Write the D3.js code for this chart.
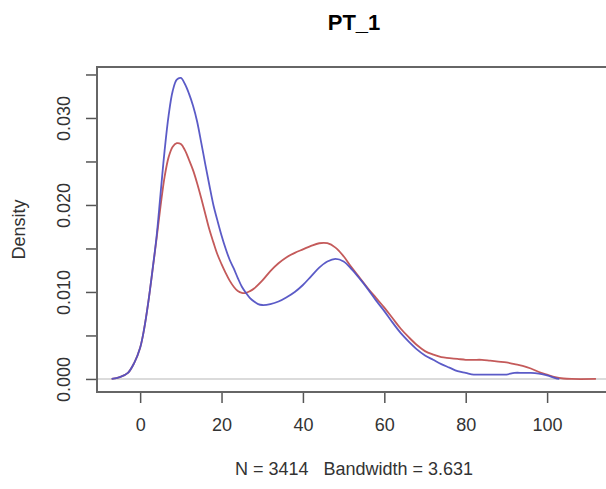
<!DOCTYPE html>
<html>
<head>
    <meta charset="utf-8">
    <title>PT_1</title>
    <script src="https://d3js.org/d3.v7.min.js"></script>
    <style>
        body { margin: 0; background: #fff; }
    </style>
</head>

<body>
<div id="chart"></div>
<script type="text/javascript">

    // curva azul
    let blueX = [-7, -5, -3, -1.5, 0, 1, 2, 3, 4, 5, 6, 7, 8, 9, 10, 11, 12, 13, 14, 15, 16, 17, 18, 19, 20,
        21, 22, 23, 24, 25, 26, 27, 28, 29, 30, 32, 34, 36, 38, 40, 42, 44, 46, 48, 50, 52, 54, 56, 58, 60,
        62, 64, 66, 68, 70, 72, 74, 76, 78, 80, 82, 84, 86, 88, 90, 92, 94, 96, 98, 100, 102, 103];
    let blueY = [0, 0.0002, 0.0007, 0.0018, 0.0036, 0.0058, 0.0088, 0.0124, 0.0162, 0.0212, 0.0262, 0.0303,
        0.0331, 0.0344, 0.0346, 0.0339, 0.0328, 0.0314, 0.0296, 0.0272, 0.0247, 0.0223, 0.0200, 0.0182, 0.0165,
        0.0150, 0.0137, 0.0127, 0.0116, 0.0106, 0.0099, 0.0093, 0.0089, 0.0086, 0.0085, 0.0086, 0.0089, 0.0094,
        0.0100, 0.0108, 0.0118, 0.0128, 0.0135, 0.0138, 0.0135, 0.0126, 0.0115, 0.0103, 0.0090, 0.0078,
        0.0065, 0.0053, 0.0043, 0.0034, 0.0027, 0.0022, 0.0017, 0.0013, 0.0009, 0.0007, 0.0005, 0.0005,
        0.0005, 0.0005, 0.0005, 0.0007, 0.0007, 0.0007, 0.0006, 0.0004, 0.0001, 0];

    // curva vermelha
    let redX = [-7, -5, -3, -1.5, 0, 1, 2, 3, 4, 5, 6, 7, 8, 9, 10, 11, 12, 13, 14, 15, 16, 17, 18, 19, 20,
        21, 22, 23, 24, 25, 26, 27, 28, 30, 32, 34, 36, 38, 40, 42, 44, 46, 48, 50, 52, 54, 56, 58, 60,
        62, 64, 66, 68, 70, 72, 74, 76, 78, 80, 82, 84, 86, 88, 90, 92, 94, 96, 98, 100, 102, 104, 106, 112];
    let redY = [0, 0.0002, 0.0007, 0.0018, 0.0036, 0.0058, 0.0088, 0.0123, 0.0160, 0.0198, 0.0232, 0.0255,
        0.0267, 0.0271, 0.0270, 0.0263, 0.0252, 0.0240, 0.0225, 0.0208, 0.0190, 0.0172, 0.0157, 0.0143, 0.0132,
        0.0122, 0.0113, 0.0106, 0.0101, 0.0099, 0.0099, 0.0101, 0.0104, 0.0113, 0.0124, 0.0133, 0.0140, 0.0145,
        0.0149, 0.0153, 0.0156, 0.0156, 0.0151, 0.0141, 0.0128, 0.0116, 0.0104, 0.0093, 0.0082,
        0.0070, 0.0058, 0.0048, 0.0039, 0.0032, 0.0028, 0.0025, 0.0024, 0.0023, 0.0022, 0.0022, 0.0022,
        0.0021, 0.0020, 0.0019, 0.0017, 0.0015, 0.0012, 0.0008, 0.0005, 0.0002, 0.00005, 0, 0];

    let xTicks = [0, 20, 40, 60, 80, 100];
    let yTicks = [0, 0.005, 0.010, 0.015, 0.020, 0.025, 0.030, 0.035];
    let yLabels = [0, 0.010, 0.020, 0.030];

    let margin = {top: 67, right: -5, bottom: 97, left: 97};
    let w = 606 - margin.left - margin.right;
    let h = 489 - margin.top - margin.bottom;

    let svg = d3.select("#chart")
        .append("svg")
        .attr("width", 606)
        .attr("height", 489)
        .style("font-family", "Liberation Sans, Arial, sans-serif");

    let g = svg.append("g")
        .attr("transform", "translate(" + margin.left + "," + margin.top + ")");

    let xScale = d3.scaleLinear()
        .domain([-10.6, 115.7])
        .range([0, w]);

    let yScale = d3.scaleLinear()
        .domain([-0.0015, 0.03586])
        .range([h, 0]);

    // linha do zero
    g.append("line")
        .attr("x1", 0).attr("x2", w)
        .attr("y1", yScale(0)).attr("y2", yScale(0))
        .attr("stroke", "#cfcfcf")
        .attr("stroke-width", 1.5);

    let line = d3.line()
        .x(function(d) { return xScale(d[0]); })
        .y(function(d) { return yScale(d[1]); })
        .curve(d3.curveCatmullRom);

    let blue = blueX.map(function(x, i) { return [x, blueY[i]]; });
    let red = redX.map(function(x, i) { return [x, redY[i]]; });

    g.append("path")
        .datum(red)
        .attr("fill", "none")
        .attr("stroke", "#c45a5a")
        .attr("stroke-width", 1.8)
        .attr("d", line);

    g.append("path")
        .datum(blue)
        .attr("fill", "none")
        .attr("stroke", "#5252c4")
        .attr("stroke-width", 1.8)
        .attr("opacity", 0.95)
        .attr("d", line);

    // caixa
    g.append("rect")
        .attr("x", 0).attr("y", 0)
        .attr("width", w).attr("height", h)
        .attr("fill", "none")
        .attr("stroke", "#666")
        .attr("stroke-width", 2);

    let xAxis = d3.axisBottom(xScale)
        .tickValues(xTicks)
        .tickSize(10)
        .tickPadding(15)
        .tickFormat(d3.format("d"));

    let yAxis = d3.axisLeft(yScale)
        .tickValues(yTicks)
        .tickSize(10)
        .tickPadding(12)
        .tickFormat(function(d) {
            return yLabels.some(function(v) { return Math.abs(v - d) < 1e-9; }) ? d3.format(".3f")(d) : "";
        });

    let gx = g.append("g")
        .attr("transform", "translate(0," + (h + 1) + ")")
        .call(xAxis);
    gx.select(".domain").remove();
    gx.selectAll("line").attr("stroke", "#555").attr("stroke-width", 1.5);
    gx.selectAll("text").attr("font-size", "18px").attr("fill", "#333").attr("font-family", null);

    let gy = g.append("g")
        .attr("transform", "translate(-1,0)")
        .call(yAxis);
    gy.select(".domain").remove();
    gy.selectAll("line").attr("stroke", "#555").attr("stroke-width", 1.5);
    gy.selectAll("text")
        .attr("font-size", "18px")
        .attr("fill", "#333")
        .attr("font-family", null)
        .attr("text-anchor", "middle")
        .attr("dy", null)
        .attr("x", null)
        .attr("transform", "translate(-32,0) rotate(-90)")
        .attr("y", 0)
        .attr("dominant-baseline", "central");

    // titulo
    svg.append("text")
        .attr("x", margin.left + w / 2)
        .attr("y", 30)
        .attr("text-anchor", "middle")
        .attr("font-size", "22px")
        .attr("font-weight", "bold")
        .text("PT_1");

    svg.append("text")
        .attr("x", margin.left + w / 2)
        .attr("y", 475)
        .attr("text-anchor", "middle")
        .attr("font-size", "18px")
        .attr("fill", "#333")
        .attr("xml:space", "preserve")
        .text("N = 3414   Bandwidth = 3.631");

    svg.append("text")
        .attr("transform", "translate(25," + (margin.top + h / 2) + ") rotate(-90)")
        .attr("text-anchor", "middle")
        .attr("font-size", "18px")
        .attr("fill", "#333")
        .text("Density");

</script>
</body>
</html>
